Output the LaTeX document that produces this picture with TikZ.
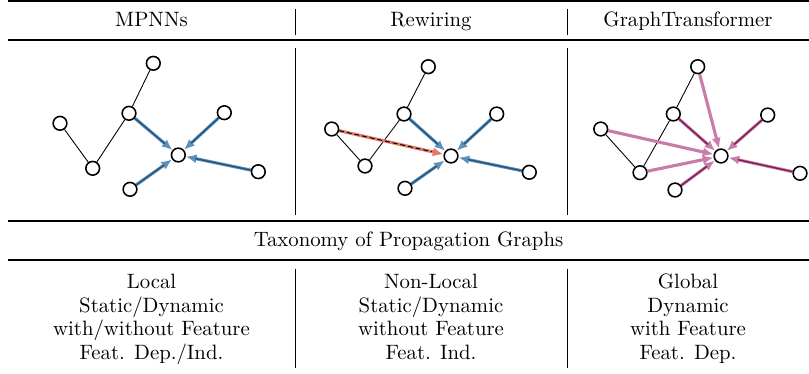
\documentclass[tikz,border=0pt]{standalone}
\usepackage{fontspec}
\usetikzlibrary{arrows.meta}
\pgfdeclarelayer{bg}
\pgfsetlayers{bg,main}
\definecolor{bluelt}{HTML}{5E91BA}
\definecolor{bluedk}{HTML}{23557D}
\definecolor{salmon}{HTML}{E27C69}
\definecolor{pinklt}{HTML}{C97BA9}
\definecolor{pinkdk}{HTML}{7A1F52}
\begin{document}
\begin{tikzpicture}[x=0.5102pt,y=-0.5102pt,
  vtx/.style={circle,draw,fill=white,line width=0.8pt,minimum size=7pt,inner sep=0pt},
  txt/.style={anchor=base,inner sep=0pt,font=\fontsize{10.6pt}{12pt}\selectfont},
  plain/.style={draw=black,line width=0.45pt},
  rule/.style={line width=0.55pt},
  toprule/.style={line width=1.1pt},
  sep/.style={line width=0.5pt},
  tipA/.style={-{Latex[length=5.5pt,width=4.6pt]}},
  blueout/.style={draw=bluelt,line width=1.6pt,tipA},
  bluein/.style={draw=bluedk,line width=0.7pt,shorten >=5pt},
  salout/.style={draw=salmon,line width=1.6pt,tipA},
  salin/.style={draw=black,line width=0.5pt,dash pattern=on 2.5pt off 1.5pt,shorten >=6pt},
  pinkout/.style={draw=pinklt,line width=1.6pt,tipA},
  pinkin/.style={draw=pinkdk,line width=0.7pt,shorten >=5pt}]
\useasboundingbox (0,0) rectangle (809,373);

% rules
\draw[toprule] (8,1.3) -- (809,1.3);
\draw[rule] (8,40) -- (809,40);
\draw[rule] (8,221) -- (809,221);
\draw[rule] (8,260) -- (809,260);
% column separators
\foreach \xx in {295,567}{
  \draw[sep] (\xx,9) -- (\xx,35);
  \draw[sep] (\xx,48) -- (\xx,215);
  \draw[sep] (\xx,269) -- (\xx,368);
}

% headers
\node[txt] (h1) at (151.5,27) {MPNNs};
\node[txt] (h2) at (431,27) {Rewiring};
\node[txt] (h3) at (688,27) {GraphTransformer};
\node[txt] (tax) at (408.5,246.5) {Taxonomy of Propagation Graphs};

% bottom row
\node[txt] (b1) at (151.5,288.5) {\begin{tabular}[t]{@{}c@{}}Local\\Static/Dynamic\\with/without Feature\\Feat. Dep./Ind.\end{tabular}};
\node[txt] (b2) at (431,288.5) {\begin{tabular}[t]{@{}c@{}}Non-Local\\Static/Dynamic\\without Feature\\Feat. Ind.\end{tabular}};
\node[txt] (b3) at (688,288.5) {\begin{tabular}[t]{@{}c@{}}Global\\Dynamic\\with Feature\\Feat. Dep.\end{tabular}};

% ---------- MPNN graph ----------
\node[vtx] (ma) at (153.3,63.3) {};
\node[vtx] (mb) at (129,113.3) {};
\node[vtx] (mc) at (60,123.3) {};
\node[vtx] (md) at (92.7,168.3) {};
\node[vtx] (me) at (178.3,155) {};
\node[vtx] (mf) at (224.3,112.7) {};
\node[vtx] (mg) at (258.3,171.7) {};
\node[vtx] (mh) at (130,189.3) {};

% ---------- Rewiring graph ----------
\node[vtx] (ra) at (428.3,66.7) {};
\node[vtx] (rb) at (404,114) {};
\node[vtx] (rc) at (331.7,129) {};
\node[vtx] (rd) at (365,166) {};
\node[vtx] (re) at (451,156) {};
\node[vtx] (rf) at (496.7,114) {};
\node[vtx] (rg) at (529.3,172.3) {};
\node[vtx] (rh) at (405,188.3) {};

% ---------- GraphTransformer graph ----------
\node[vtx] (ga) at (697.7,66.7) {};
\node[vtx] (gb) at (673.3,114) {};
\node[vtx] (gc) at (600.7,129) {};
\node[vtx] (gd) at (640,172.7) {};
\node[vtx] (ge) at (721,156) {};
\node[vtx] (gf) at (767.7,115) {};
\node[vtx] (gg) at (800,173.3) {};
\node[vtx] (gh) at (675,190) {};

\begin{pgfonlayer}{bg}
  % MPNN
  \draw[plain] (mc) -- (md) -- (mb) -- (ma);
  \foreach \s in {mb,mf,mg,mh}{
    \draw[blueout] (\s) -- (me);
    \draw[bluein] (\s) -- (me);
  }
  % Rewiring
  \draw[plain] (rc) -- (rd) -- (rb) -- (ra);
  \foreach \s in {rb,rf,rg,rh}{
    \draw[blueout] (\s) -- (re);
    \draw[bluein] (\s) -- (re);
  }
  \draw[salout] (rc) -- (re);
  \draw[salin] (rc) -- (re);
  % GraphTransformer
  \draw[plain] (gc) -- (gd) -- (gb) -- (ga);
  \foreach \s in {ga,gc,gd}{
    \draw[pinkout] (\s) -- (ge);
  }
  \foreach \s in {gb,gf,gg,gh}{
    \draw[pinkout] (\s) -- (ge);
    \draw[pinkin] (\s) -- (ge);
  }
\end{pgfonlayer}
\end{tikzpicture}
\end{document}
